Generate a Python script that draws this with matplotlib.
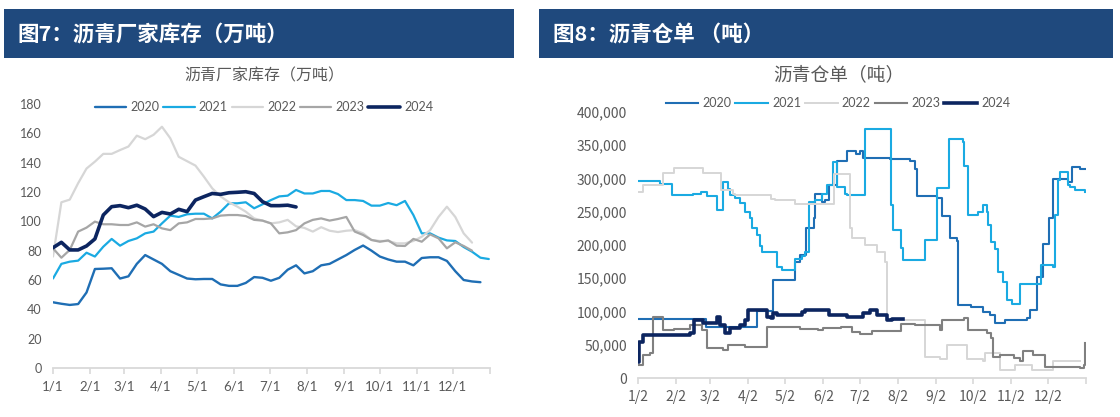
import numpy as np
import matplotlib
matplotlib.use('Agg')
import matplotlib.pyplot as plt
from matplotlib.patches import Rectangle

plt.rcParams['font.family'] = ['Noto Sans CJK SC', 'DejaVu Sans']

# ---------------- data: left chart (weekly, 万吨) ----------------
years = ['2020', '2021', '2022', '2023', '2024']
inv2020 = [44.8, 43.8, 43.0, 43.6, 51.5, 67.5, 67.7, 68.0, 61.0, 62.5, 71.0, 77.0, 74.0, 71.0, 66.0,
           63.5, 61.0, 60.5, 60.7, 60.7, 57.0, 56.0, 56.0, 58.0, 62.0, 61.5, 59.5, 61.5, 67.0, 70.0,
           64.5, 66.0, 70.0, 71.0, 74.0, 77.0, 80.5, 83.5, 80.0, 76.0, 74.0, 72.5, 72.5, 70.0, 75.0,
           75.5, 75.5, 73.0, 66.0, 60.0, 59.0, 58.5]
inv2021 = [61.0, 71.0, 72.5, 73.2, 78.6, 76.0, 82.7, 88.0, 83.4, 86.6, 88.4, 91.8, 93.0, 98.6, 103.9,
           103.0, 104.8, 105.2, 105.2, 102.0, 106.6, 112.3, 112.3, 113.0, 108.9, 111.6, 114.5, 117.0,
           117.5, 121.4, 119.0, 119.0, 120.7, 120.7, 118.6, 114.5, 114.5, 113.9, 110.7, 110.7, 112.5,
           111.0, 113.9, 104.3, 91.8, 91.8, 88.9, 87.0, 86.6, 82.5, 79.3, 75.2, 74.3]
inv2022 = [76.0, 113.0, 114.8, 126.0, 136.0, 140.7, 146.0, 146.0, 148.6, 151.0, 158.4, 156.0, 159.0,
           164.5, 156.6, 144.0, 141.0, 138.0, 130.5, 122.5, 117.0, 113.0, 110.0, 106.6, 102.0, 100.5,
           98.6, 99.3, 101.0, 96.6, 95.5, 93.0, 96.0, 93.6, 92.7, 93.6, 94.0, 91.8, 87.3, 86.6, 86.6,
           85.0, 85.0, 86.6, 89.5, 94.0, 103.0, 110.0, 103.0, 91.8, 85.5]
inv2023 = [81.6, 75.2, 80.5, 93.0, 95.7, 99.8, 98.0, 98.0, 97.5, 97.5, 99.3, 96.4, 98.0, 95.2, 94.0,
           98.6, 99.3, 101.6, 101.6, 102.0, 103.9, 104.3, 104.3, 103.6, 101.0, 100.5, 98.6, 91.8, 92.5,
           94.0, 98.6, 101.0, 102.0, 100.5, 101.6, 103.0, 93.0, 90.7, 87.3, 86.1, 87.0, 83.4, 83.2,
           88.0, 86.1, 91.1, 88.4, 81.6, 85.7, 83.2, 80.0]
inv2024 = [82.0, 85.7, 80.5, 80.5, 83.2, 88.0, 104.3, 110.0, 110.7, 109.3, 111.0, 108.4, 103.2, 106.1,
           105.0, 108.2, 106.6, 114.5, 116.8, 119.0, 118.4, 119.5, 119.8, 120.2, 119.0, 113.4, 110.7,
           110.7, 111.0, 109.8]
left_series = [inv2020, inv2021, inv2022, inv2023, inv2024]

# ---------------- data: right chart (daily steps, 吨) ----------------
# day offsets from 1/2 where the value changes, and the new value
wr2020_d = [0, 55, 97, 110, 128, 132, 137, 143, 144, 150, 152, 156, 162, 170, 178, 181, 183, 205, 222,
            226, 227, 244, 248, 254, 260, 261, 271, 281, 287, 291, 299, 317, 319, 325, 330, 335, 338,
            347, 350, 354, 360, 365]
wr2020_v = [88000, 76000, 101000, 148000, 175000, 185000, 225000, 240000, 277000, 265000, 268000,
            290000, 327000, 342000, 337000, 342000, 331000, 330000, 327000, 315000, 274000, 271000,
            244000, 211000, 206000, 110000, 107000, 99000, 95000, 82000, 87000, 89500, 102000,
            152000, 202000, 240000, 299500, 300000, 295000, 317000, 315000, 315000]
wr2021_d = [0, 18, 28, 45, 51, 56, 64, 69, 73, 75, 79, 83, 87, 91, 93, 97, 99, 101, 113, 117, 128,
            134, 136, 139, 144, 150, 154, 159, 162, 169, 170, 185, 205, 206, 208, 214, 216, 234, 244,
            253, 265, 266, 269, 277, 281, 284, 285, 288, 291, 293, 297, 301, 305, 311, 328, 338, 340,
            342, 344, 350, 352, 356, 364]
wr2021_v = [296000, 291000, 275000, 276000, 280000, 274000, 252000, 294000, 284000, 275000, 270000,
            263000, 250000, 240000, 225000, 215000, 198000, 189000, 167000, 163000, 179000, 184000,
            189000, 265000, 268000, 277000, 290000, 325000, 287000, 277000, 274500, 374500, 374500,
            259500, 222000, 195000, 177000, 207000, 286000, 359500, 355000, 319500, 244500, 249500,
            259500, 249500, 229500, 204500, 194500, 159500, 144500, 117000, 112000, 142000, 169500,
            167000, 244500, 297000, 309500, 290000, 287000, 282000, 279500]
wr2022_d = [0, 4, 20, 29, 53, 68, 77, 79, 108, 112, 128, 160, 173, 174, 185, 195, 201, 203, 234, 246,
            252, 268, 281, 283, 295, 307, 321, 338, 360]
wr2022_v = [279000, 289500, 309000, 316500, 309000, 282000, 277000, 274500, 269500, 267000, 262000,
            307000, 225000, 210000, 199500, 189500, 174500, 87000, 31500, 28000, 49500, 28000, 25000,
            37500, 12000, 19500, 12000, 25000, 25000]
wr2023_d = [0, 4, 10, 12, 20, 29, 42, 52, 56, 69, 73, 87, 105, 132, 147, 151, 165, 174, 181, 191,
            214, 226, 246, 248, 266, 269, 284, 288, 289, 295, 306, 311, 314, 322, 332, 360, 363, 364]
wr2023_v = [19500, 34500, 37000, 91500, 72000, 74000, 79500, 72000, 45000, 42000, 49500, 47000,
            76500, 74000, 72500, 75000, 76500, 69000, 66000, 70500, 81000, 79500, 72000, 87000, 90000,
            72000, 67500, 60000, 31500, 35000, 30000, 25000, 40000, 34500, 16500, 15000, 19500, 52500]
wr2024_d = [0, 1, 4, 42, 46, 53, 64, 67, 71, 75, 83, 87, 90, 105, 108, 110, 113, 134, 136, 156, 170,
            183, 189, 195, 203, 207, 216]
wr2024_v = [24500, 54500, 64500, 67000, 87000, 82000, 92000, 79500, 67000, 74500, 79500, 87000,
            102000, 92000, 89500, 97000, 94500, 99500, 102000, 94500, 92000, 98000, 102000, 94500,
            87000, 88500, 88500]
right_series = [(wr2020_d, wr2020_v), (wr2021_d, wr2021_v), (wr2022_d, wr2022_v),
                (wr2023_d, wr2023_v), (wr2024_d, wr2024_v)]

month_days = [0, 31, 59, 90, 120, 151, 181, 212, 243, 273, 304, 334, 365]
left_xlabels = ['1/1', '2/1', '3/1', '4/1', '5/1', '6/1', '7/1', '8/1', '9/1', '10/1', '11/1', '12/1', '']
right_xlabels = ['1/2', '2/2', '3/2', '4/2', '5/2', '6/2', '7/2', '8/2', '9/2', '10/2', '11/2', '12/2', '']
left_yticks = [0, 20, 40, 60, 80, 100, 120, 140, 160, 180]
right_yticks = [0, 50000, 100000, 150000, 200000, 250000, 300000, 350000, 400000]

# ---------------- styles ----------------
left_colors = ['#1F6EB4', '#1AAAE2', '#D6D6D6', '#A6A6A6', '#0C2560']
right_colors = ['#1F6EB4', '#1AAAE2', '#D6D6D6', '#808080', '#0C2560']
left_lw = [1.7, 1.6, 1.6, 1.6, 2.6]
right_lw = [1.5, 1.5, 1.4, 1.5, 2.6]
bar_color = '#1F497D'
txt_gray = '#595959'
axis_gray = '#D9D9D9'

W, H = 1120, 417
fig = plt.figure(figsize=(W / 100, H / 100), dpi=100)


def fx(px):
    return px / W


def fy(py):
    return 1 - py / H


# title bars
fig.patches.append(Rectangle((fx(4), fy(58)), (514 - 4) / W, (58 - 9) / H,
                             transform=fig.transFigure, facecolor=bar_color, edgecolor='none', zorder=0))
fig.patches.append(Rectangle((fx(539), fy(58)), (1113 - 539) / W, (58 - 9) / H,
                             transform=fig.transFigure, facecolor=bar_color, edgecolor='none', zorder=0))
fig.text(fx(17), fy(35), '图7：沥青厂家库存（万吨）', color='white', fontsize=15.5,
         fontweight='bold', ha='left', va='center')
fig.text(fx(553), fy(35), '图8：沥青仓单 （吨）', color='white', fontsize=15.5,
         fontweight='bold', ha='left', va='center')

# chart titles
fig.text(fx(264), fy(76), '沥青厂家库存（万吨）', color=txt_gray, fontsize=11.5, ha='center', va='center')
fig.text(fx(839), fy(75), '沥青仓单（吨）', color=txt_gray, fontsize=13.5, ha='center', va='center')


def style_axis(ax):
    for s in ['top', 'right', 'left']:
        ax.spines[s].set_visible(False)
    ax.spines['bottom'].set_color(axis_gray)
    ax.spines['bottom'].set_linewidth(1.3)
    ax.tick_params(axis='x', direction='out', length=4, width=1.2, color=axis_gray,
                   labelcolor=txt_gray, pad=5)
    ax.tick_params(axis='y', length=0, labelcolor=txt_gray, pad=8)
    ax.set_facecolor('none')


# ---------------- left chart ----------------
axL = fig.add_axes([fx(53), fy(368), 437 / W, (368 - 104) / H])
handlesL = []
for name, vals, c, lw in zip(years, left_series, left_colors, left_lw):
    x = np.arange(len(vals)) * 7
    ln, = axL.plot(x, vals, color=c, lw=lw, solid_joinstyle='round', solid_capstyle='round',
                   zorder=3 if name == '2024' else 2)
    handlesL.append(ln)
axL.set_xlim(0, 365)
axL.set_ylim(0, 180)
axL.set_yticks(left_yticks)
axL.set_yticklabels([str(v) for v in left_yticks], fontsize=9, family='Lato')
axL.set_xticks(month_days)
axL.set_xticklabels(left_xlabels, fontsize=9.5, family='Lato')
style_axis(axL)
fig.legend(handlesL, years, loc='center', bbox_to_anchor=(fx(264), fy(107)), ncol=5,
           frameon=False, prop={'family': 'Lato', 'size': 9}, handlelength=2.5,
           handletextpad=0.35, columnspacing=0.3, labelcolor=txt_gray, borderpad=0)

# ---------------- right chart ----------------
axR = fig.add_axes([fx(638), fy(378), 448 / W, (378 - 112) / H])
handlesR = []
for name, (d, v), c, lw in zip(years, right_series, right_colors, right_lw):
    ln, = axR.step(d, v, where='post', color=c, lw=lw, solid_joinstyle='round',
                   zorder=3 if name == '2024' else 2)
    handlesR.append(ln)
axR.set_xlim(0, 365)
axR.set_ylim(0, 400000)
axR.set_yticks(right_yticks)
axR.set_yticklabels(['{:,}'.format(v) for v in right_yticks], fontsize=10)
axR.set_xticks(month_days)
axR.set_xticklabels(right_xlabels, fontsize=10)
style_axis(axR)
fig.legend(handlesR, years, loc='center', bbox_to_anchor=(fx(838), fy(103)), ncol=5,
           frameon=False, prop={'family': 'Lato', 'size': 9}, handlelength=2.6,
           handletextpad=0.35, columnspacing=0.3, labelcolor=txt_gray, borderpad=0)

fig.savefig('out.png', dpi=100)
